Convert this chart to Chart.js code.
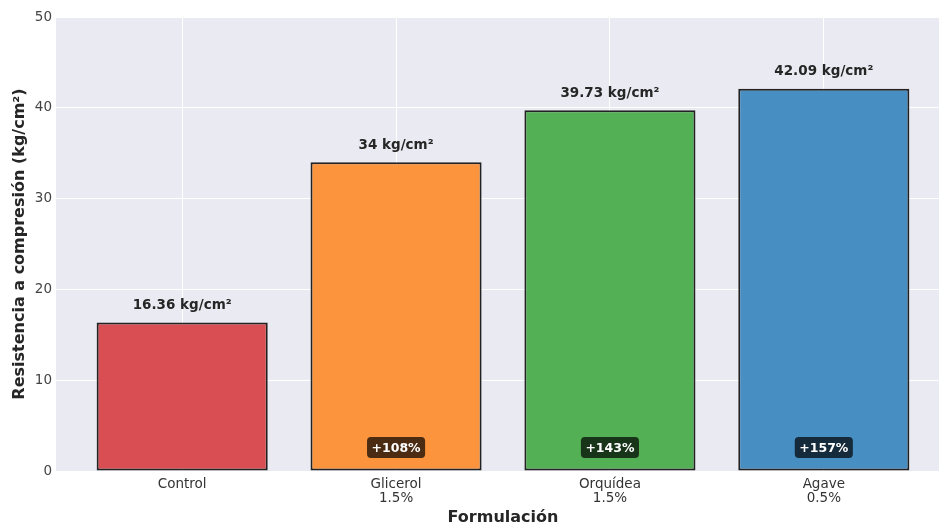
<!DOCTYPE html>
<html>
<head>
<meta charset="utf-8">
<script src="https://cdn.jsdelivr.net/npm/chart.js@4/dist/chart.umd.min.js"></script>
<style>
  html, body { margin: 0; padding: 0; background: #fff; overflow: hidden; }
  /* plot runs a little past the right edge of the window, as in the reference */
  #wrap { width: 950px; height: 527px; }
</style>
</head>
<body>
<div id="wrap"><canvas id="chart"></canvas></div>
<script>
// Data
const categories = ['Control', 'Glicerol\n1.5%', 'Orquídea\n1.5%', 'Agave\n0.5%'];
const values = [16.36, 34, 39.73, 42.09];
const valueLabels = ['16.36 kg/cm²', '34 kg/cm²', '39.73 kg/cm²', '42.09 kg/cm²'];
const gainLabels = ['', '+108%', '+143%', '+157%'];
const yTicks = [0, 10, 20, 30, 40, 50];

const barColors = ['#d84e52', '#fb943c', '#53b055', '#478ec3'];
const FONT = "'DejaVu Sans', sans-serif";

// seaborn-like grey plot area
const plotBg = {
    id: 'plotBg',
    beforeDraw(chart) {
        const { ctx, chartArea: a } = chart;
        ctx.save();
        ctx.fillStyle = '#eaeaf2';
        ctx.fillRect(a.left, a.top, a.right - a.left, a.bottom - a.top);
        ctx.restore();
    }
};

// value labels above bars + percent badges near the base
const barLabels = {
    id: 'barLabels',
    afterDatasetsDraw(chart) {
        const { ctx } = chart;
        const meta = chart.getDatasetMeta(0);
        const y = chart.scales.y;
        ctx.save();
        meta.data.forEach((bar, i) => {
            ctx.font = `bold 13.5px ${FONT}`;
            ctx.fillStyle = '#262626';
            ctx.textAlign = 'center';
            ctx.textBaseline = 'middle';
            ctx.fillText(valueLabels[i], bar.x, bar.y - 17);

            if (!gainLabels[i]) return;
            ctx.font = `bold 12.5px ${FONT}`;
            const w = ctx.measureText(gainLabels[i]).width + 9;
            const h = 21;
            const cy = y.getPixelForValue(2.6);
            ctx.fillStyle = 'rgba(0,0,0,0.7)';
            ctx.beginPath();
            ctx.roundRect(bar.x - w / 2, cy - h / 2, w, h, 4);
            ctx.fill();
            ctx.fillStyle = '#ffffff';
            ctx.fillText(gainLabels[i], bar.x, cy + 1);
        });
        ctx.restore();
    }
};

new Chart(document.getElementById('chart'), {
    type: 'bar',
    data: {
        datasets: [{
            data: values.map((v, i) => ({ x: i, y: v })),
            backgroundColor: barColors,
            borderColor: '#222222',
            borderWidth: 2,
            borderSkipped: false,
            categoryPercentage: 1,
            barPercentage: 0.8
        }]
    },
    options: {
        responsive: true,
        maintainAspectRatio: false,
        animation: false,
        layout: { padding: { top: 17, right: 0, left: 0, bottom: 0 } },
        plugins: { legend: { display: false }, tooltip: { enabled: false } },
        scales: {
            x: {
                type: 'linear',
                offset: false,
                min: -0.59,
                max: 3.59,
                afterBuildTicks(scale) {
                    scale.ticks = categories.map((_, i) => ({ value: i }));
                },
                afterFit(scale) { scale.height = 56; },
                ticks: {
                    callback: (v) => categories[v] ? categories[v].split('\n') : '',
                    color: '#333333',
                    font: { family: FONT, size: 13.5, lineHeight: 1.04 },
                    padding: 6,
                    maxRotation: 0
                },
                grid: { color: '#ffffff', lineWidth: 1, drawTicks: false, offset: false },
                border: { display: false },
                title: {
                    display: true,
                    text: 'Formulación',
                    color: '#262626',
                    font: { family: FONT, size: 16, weight: 'bold' },
                    padding: { top: 0, bottom: 0 }
                }
            },
            y: {
                min: 0,
                max: 50,
                afterBuildTicks(scale) {
                    scale.ticks = yTicks.map(v => ({ value: v }));
                },
                afterFit(scale) { scale.width = 56; },
                ticks: {
                    color: '#444444',
                    font: { family: FONT, size: 13.5 },
                    padding: 4
                },
                grid: { color: '#ffffff', lineWidth: 1, drawTicks: false },
                border: { display: false },
                title: {
                    display: true,
                    text: 'Resistencia a compresión (kg/cm²)',
                    color: '#262626',
                    font: { family: FONT, size: 16, weight: 'bold' },
                    padding: { top: 10, bottom: 0 }
                }
            }
        }
    },
    plugins: [plotBg, barLabels]
});
</script>
</body>
</html>
